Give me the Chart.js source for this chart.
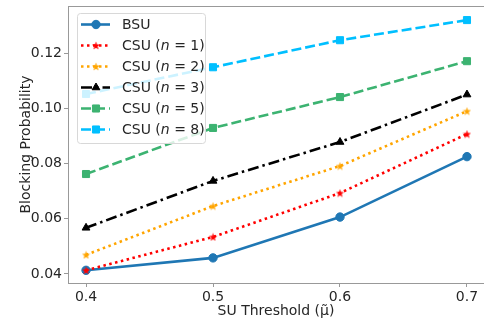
<!DOCTYPE html>
<html>
<head>
<meta charset="utf-8">
<script src="https://cdn.jsdelivr.net/npm/chart.js@4.4.0/dist/chart.umd.min.js"></script>
<style>
  html, body { margin: 0; padding: 0; background: #fff; }
  #wrap { width: 484px; height: 324px; }
</style>
</head>
<body>
<div id="wrap"><canvas id="chart" width="484" height="324"></canvas></div>
<script>
// values
const xValues = [0.4, 0.5, 0.6, 0.7];
const seriesNames = ['BSU', 'CSU (n = 1)', 'CSU (n = 2)', 'CSU (n = 3)', 'CSU (n = 5)', 'CSU (n = 8)'];
const bsu   = [0.0413, 0.0458, 0.0606, 0.0825];
const csuN1 = [0.0413, 0.0534, 0.0693, 0.0907];
const csuN2 = [0.0469, 0.0646, 0.0791, 0.0990];
const csuN3 = [0.0567, 0.0737, 0.0878, 0.1050];
const csuN5 = [0.0762, 0.0929, 0.1041, 0.1171];
const csuN8 = [0.1052, 0.1149, 0.1247, 0.1320];
const xTicks = [0.4, 0.5, 0.6, 0.7];
const yTicks = [0.04, 0.06, 0.08, 0.10, 0.12];

const FONT = '"DejaVu Sans", sans-serif';
const TEXT = '#262626';
const FRAME = '#999999';

// filled star marker (Chart.js 'star' is only an asterisk)
function starImage(color) {
    const c = document.createElement('canvas');
    c.width = 9; c.height = 9;
    const g = c.getContext('2d');
    g.fillStyle = color;
    g.beginPath();
    for (let i = 0; i < 10; i++) {
        const r = i % 2 === 0 ? 4.3 : 1.8;
        const a = -Math.PI / 2 + i * Math.PI / 5;
        const px = 4.5 + r * Math.cos(a), py = 4.9 + r * Math.sin(a);
        if (i === 0) g.moveTo(px, py); else g.lineTo(px, py);
    }
    g.closePath();
    g.fill();
    return c;
}

const styles = [
    { color: '#1f77b4', dash: [],              point: 'circle',             radius: 4.2 },
    { color: '#ff0000', dash: [2.5, 3.5],      point: starImage('#ff0000'), radius: 4 },
    { color: '#ffa500', dash: [2.5, 3.5],      point: starImage('#ffa500'), radius: 4 },
    { color: '#000000', dash: [11, 4, 2.5, 4], point: 'triangle',           radius: 4.5 },
    { color: '#3cb371', dash: [10, 4],         point: 'rect',               radius: 5 },
    { color: '#00bfff', dash: [10, 4],         point: 'rect',               radius: 5 }
];
const seriesValues = [bsu, csuN1, csuN2, csuN3, csuN5, csuN8];

const datasets = seriesNames.map((name, i) => ({
    label: name,
    data: xValues.map((x, j) => ({ x: x, y: seriesValues[i][j] })),
    borderColor: styles[i].color,
    backgroundColor: styles[i].color,
    pointBackgroundColor: styles[i].color,
    pointBorderColor: styles[i].color,
    borderWidth: 2.6,
    borderDash: styles[i].dash,
    borderCapStyle: 'butt',
    pointStyle: styles[i].point,
    pointRadius: styles[i].radius,
    pointBorderWidth: 1,
    tension: 0,
    fill: false,
    clip: false,
    order: seriesNames.length - i
}));

// top frame line (matplotlib box)
const topFrame = {
    id: 'topFrame',
    afterDraw(chart) {
        const { ctx, chartArea: a } = chart;
        ctx.save();
        ctx.strokeStyle = FRAME;
        ctx.lineWidth = 1;
        ctx.beginPath();
        ctx.moveTo(a.left, a.top + 0.5);
        ctx.lineTo(a.right, a.top + 0.5);
        ctx.stroke();
        ctx.restore();
    }
};

// matplotlib style legend box with line samples and italic n
const boxLegend = {
    id: 'boxLegend',
    afterDatasetsDraw(chart) {
        const { ctx, chartArea: a } = chart;
        const x0 = a.left + 9, y0 = a.top + 7, w = 128, h = 130, rowH = 21;
        ctx.save();
        ctx.beginPath();
        ctx.roundRect(x0 + 0.5, y0 + 0.5, w, h, 3);
        ctx.fillStyle = 'rgba(255,255,255,0.8)';
        ctx.fill();
        ctx.strokeStyle = '#d8d8d8';
        ctx.lineWidth = 1;
        ctx.stroke();

        chart.data.datasets.forEach((ds, i) => {
            const cy = y0 + 11.5 + i * rowH;
            ctx.setLineDash(ds.borderDash);
            ctx.lineCap = 'butt';
            ctx.strokeStyle = ds.borderColor;
            ctx.lineWidth = ds.borderWidth;
            ctx.beginPath();
            ctx.moveTo(x0 + 4, cy);
            ctx.lineTo(x0 + 33, cy);
            ctx.stroke();
            ctx.setLineDash([]);
            ctx.fillStyle = ds.pointBackgroundColor;
            ctx.strokeStyle = ds.pointBorderColor;
            ctx.lineWidth = 1;
            Chart.helpers.drawPoint(ctx, { pointStyle: ds.pointStyle, radius: ds.pointRadius, rotation: 0, borderWidth: 1 }, x0 + 19, cy);

            ctx.fillStyle = TEXT;
            ctx.textBaseline = 'middle';
            let tx = x0 + 45;
            ds.label.split(/\b(n)\b/).forEach(part => {
                ctx.font = (part === 'n' ? 'italic ' : '') + '14px ' + FONT;
                ctx.fillText(part, tx, cy + 1);
                tx += ctx.measureText(part).width;
            });
        });
        ctx.restore();
    }
};

new Chart(document.getElementById('chart'), {
    type: 'line',
    data: { datasets: datasets },
    plugins: [topFrame, boxLegend],
    options: {
        responsive: false,
        animation: false,
        events: [],
        layout: { autoPadding: false, padding: { top: 6, right: 0, left: 0, bottom: 0 } },
        plugins: {
            legend: { display: false },
            tooltip: { enabled: false }
        },
        scales: {
            x: {
                type: 'linear',
                min: 0.3858,
                max: 0.7134,
                afterBuildTicks: s => { s.ticks = xTicks.map(v => ({ value: v })); },
                afterFit: s => { s.height = 41; s.paddingLeft = 0; s.paddingRight = 0; },
                ticks: {
                    callback: v => v.toFixed(1),
                    font: { family: FONT, size: 14 },
                    color: TEXT,
                    padding: 2,
                    maxRotation: 0
                },
                grid: { drawOnChartArea: false, drawTicks: true, tickLength: 4, color: FRAME },
                border: { color: FRAME, width: 1 },
                title: {
                    display: true,
                    text: 'SU Threshold (\u03BC\u0303)',
                    font: { family: FONT, size: 14 },
                    color: TEXT,
                    padding: { top: 0, bottom: 4 }
                }
            },
            y: {
                type: 'linear',
                min: 0.0367,
                max: 0.1371,
                afterBuildTicks: s => { s.ticks = yTicks.map(v => ({ value: v })); },
                afterFit: s => { s.width = 68; s.paddingTop = 0; s.paddingBottom = 0; },
                ticks: {
                    callback: v => v.toFixed(2),
                    font: { family: FONT, size: 14 },
                    color: TEXT,
                    padding: 2
                },
                grid: { drawOnChartArea: false, drawTicks: true, tickLength: 4, color: FRAME },
                border: { color: FRAME, width: 1 },
                title: {
                    display: true,
                    text: 'Blocking Probability',
                    font: { family: FONT, size: 14 },
                    color: TEXT,
                    padding: { top: 18, bottom: 0 }
                }
            }
        }
    }
});
</script>
</body>
</html>
